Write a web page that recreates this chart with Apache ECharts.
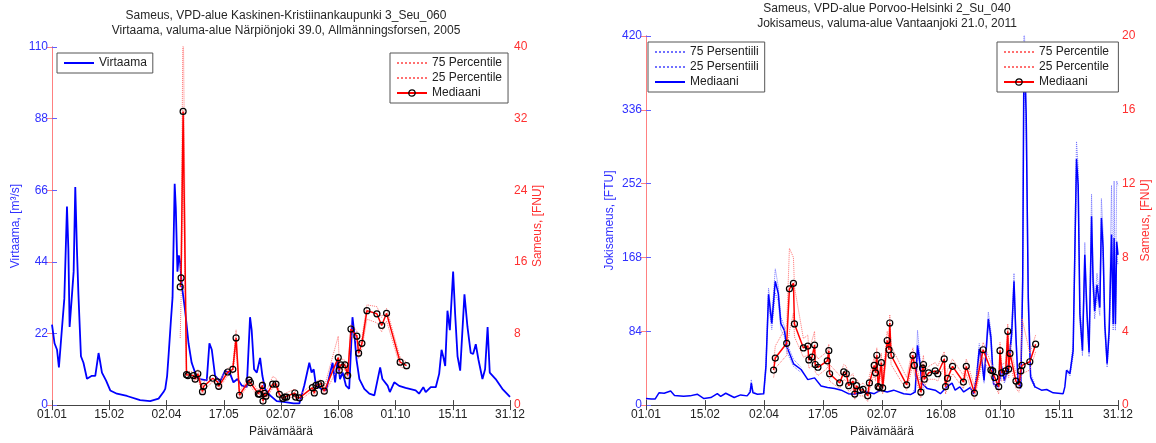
<!DOCTYPE html>
<html>
<head>
<meta charset="utf-8">
<script src="https://cdn.jsdelivr.net/npm/echarts@6/dist/echarts.min.js"></script>
<style>
  html, body { margin: 0; padding: 0; background: #fff; }
  #chart { width: 1156px; height: 443px; }
</style>
</head>
<body>
<div id="chart"></div>
<script>
// x axis: day of year, ticks every 45.5 days
const dateLabels = ['01.01', '15.02', '02.04', '17.05', '02.07', '16.08', '01.10', '15.11', '31.12'];

// left panel: Virtaama [m3/s], day -> value
const flowLeft = [
  [0,24.7],[2,19],[4,17],[5.5,11.6],[8,24],[9.8,32.7],[11,33],[11.9,61],[13,48],[14,24],[15.9,34],[17.2,41],
  [18.5,67],[19.8,48],[21,34],[23,15],[25,13],[27.8,8.1],[31.7,9],[34.4,9],[37,16],[38.4,13],[39.7,10],
  [43,7.5],[46.3,4.5],[51.6,3.5],[59.6,2.8],[70,1.5],[78,1.2],[84.7,2],[88.6,4],[90,5],[91.5,9],[92.6,15],
  [94.5,26],[95.8,33],[97.5,68],[98.4,60.5],[99.7,41],[100.8,46],[101.8,44],[103.1,37],[105.8,29],[108.5,19],
  [111,13],[115,8.6],[117.7,8],[123,7.6],[125.1,19],[127,17],[129.6,9],[133.6,7.3],[137.6,10.6],[141.6,9.6],
  [144.2,7],[147.4,8],[150.8,6],[154.8,5.5],[157.4,27],[158.7,23],[160.6,11],[162.8,10],[165.4,14.5],[167.2,9],
  [169.3,5],[173.3,3],[178.6,1.2],[184,1],[192,0.5],[196.6,0.5],[200.5,6],[204.5,13],[206.3,10],[208,11],
  [209.8,6],[213.8,5],[217.8,4.5],[223,13],[225,7],[227,14],[228.9,8],[231,10],[233.6,6],[236.2,5],[238.8,27],
  [240.3,22],[242,14],[244.3,8],[248.2,5],[252.2,3.5],[256.2,3],[260.8,11.6],[262.6,8],[266.7,6],[268.5,4],
  [272,7],[275.9,5.9],[281,5.3],[289,4.5],[291.7,3.5],[295.1,5.5],[297,4],[301,5.5],[305,5.5],[307.7,9.6],
  [309.6,17],[310.9,15],[312.5,12],[314.3,29],[316.2,23],[318.8,41],[320.4,28],[322.3,15],[324.4,10.6],
  [327.8,34],[330.2,24],[332.8,16],[334.7,15.7],[336.8,18.7],[338.9,14],[342.1,8],[344.2,11],[346.2,24],
  [347.9,10],[352.6,8],[357.9,5],[364,2.5]
];

// left panel: Sameus [FNU]
const medLeft = [
  [101.9,13.2],[102.6,14.2],[104.2,32.8],[106.9,3.4],[108,3.3],[112.4,3.3],[113.8,2.9],[115.9,3.5],[119.6,1.5],
  [120.6,2.1],[127.8,3.0],[131.5,2.6],[132.5,2.1],[139.7,3.7],[143.7,4.0],[146.3,7.5],[149,1.1],[156.6,2.8],
  [157.7,2.5],[164,1.25],[165,1.2],[167.2,2.2],[167.7,0.45],[168.8,1.3],[170,1.0],[175.4,2.35],[178,2.35],
  [180.7,1.2],[183.4,0.75],[185,0.9],[186.5,0.9],[193,1.35],[193.6,0.9],[196.6,0.8],[207,1.95],[208.5,1.35],
  [209.8,2.2],[212,2.3],[213.8,2.4],[216.4,1.55],[227.5,5.3],[228.3,3.9],[229.6,4.5],[232.8,4.5],[235,3.3],
  [237.6,8.5],[242.3,7.7],[243.7,5.8],[246.3,6.9],[250.3,10.55],[258.2,10.2],[262,8.9],[265.9,10.25],
  [276.7,4.8],[281.8,4.4]
];
const p75Left = [
  [101.9,15],[102.6,16],[104.2,45],[106.9,3.8],[108,3.7],[112.4,3.7],[113.8,3.4],[115.9,4.0],[119.6,2.0],
  [120.6,2.6],[127.8,3.4],[131.5,3.0],[132.5,2.6],[139.7,4.1],[143.7,4.5],[146.3,8.4],[149,1.5],[156.6,3.2],
  [157.7,3.0],[164,1.6],[165,1.6],[167.2,2.7],[167.7,0.9],[168.8,1.7],[170,1.4],[175.4,3.2],[178,3.0],
  [180.7,1.6],[183.4,1.1],[185,1.3],[186.5,1.3],[193,1.8],[193.6,1.3],[196.6,1.1],[207,2.4],[208.5,1.8],
  [209.8,2.6],[212,2.8],[213.8,2.8],[216.4,2.0],[227.5,7.7],[228.3,4.6],[229.6,5.2],[232.8,5.0],[235,3.8],
  [237.6,9.0],[242.3,8.3],[243.7,6.4],[246.3,7.5],[250.3,11.2],[258.2,11.0],[262,9.8],[265.9,10.8],
  [276.7,5.3],[281.8,4.8]
];
const p25Left = [
  [101.9,7.5],[102.6,12],[104.2,28],[106.9,3.0],[108,2.9],[112.4,3.0],[113.8,2.5],[115.9,3.1],[119.6,1.2],
  [120.6,1.7],[127.8,2.6],[131.5,2.2],[132.5,1.8],[139.7,3.3],[143.7,3.6],[146.3,6.6],[149,0.8],[156.6,2.4],
  [157.7,2.1],[164,0.9],[165,0.9],[167.2,1.8],[167.7,0.2],[168.8,1.0],[170,0.7],[175.4,1.9],[178,2.0],
  [180.7,0.9],[183.4,0.5],[185,0.6],[186.5,0.6],[193,1.0],[193.6,0.6],[196.6,0.5],[207,1.6],[208.5,1.0],
  [209.8,1.8],[212,1.9],[213.8,2.0],[216.4,1.2],[227.5,4.2],[228.3,3.4],[229.6,4.0],[232.8,4.0],[235,2.9],
  [237.6,7.8],[242.3,7.1],[243.7,5.2],[246.3,6.3],[250.3,9.6],[258.2,9.2],[262,8.2],[265.9,9.4],
  [276.7,4.3],[281.8,4.0]
];

// right panel: Jokisameus [FTU]
const jokiMed = [
  [0,7.5],[4,7],[7,6.8],[10,14],[14,13.5],[19,16],[22,11],[29,10],[34,10.5],[39.5,12.4],[44.7,7.5],[50,8.6],
  [55,13],[57.6,10],[61.5,13.5],[68,8.6],[73,11.6],[78,10.5],[80.4,15],[81.2,25],[82.5,14],[86,12.4],
  [90.7,13],[92.5,44],[94.5,126],[97,93],[99.7,141],[102,127],[104,93],[106.7,85],[108.7,66],[113.8,47],
  [119.6,40.5],[124.8,29],[130,31],[135,21.8],[140,20],[145.5,19],[150.6,17],[156,13],[161,12.4],[165,14],
  [170.5,15],[176,13],[181,17],[186,15],[191,17],[198.7,13],[204,12],[207.6,15],[209.4,68],[211,51],
  [212.8,24.5],[217,18.8],[223,17],[227,13],[232,20.7],[236,25],[238.4,17],[242,20.7],[245,15],[250,20],
  [252.5,13],[255,32],[257,64],[259,51],[260.7,28],[264,98],[266,77],[268,24.5],[271.7,20.7],[274.3,43],
  [276.4,28],[279.4,43],[282,81],[283.8,141],[285.3,77],[287,24.5],[289,20.7],[290.5,141],[291.5,410],
  [293.2,330],[294.8,122],[296.6,32],[300,20.7],[305,17],[309,17.7],[314,14],[321.7,13],[323,20.7],
  [324.3,39.5],[326.9,35.8],[329.4,62],[331,198],[332,280],[333.3,250],[334.6,104],[336.6,62],[338.4,171],
  [340,107],[341.7,60],[343.6,215],[344.8,141],[346,107],[347.8,137],[348.9,135],[350,111],[351.2,213],
  [352.5,179],[353.8,92],[355.6,47],[357.2,85],[359,194],[360.3,92],[361,190],[362,92],[363,186],[364,171]
];
const jokiP75 = [
  [79,12],[80.4,19],[81.2,29],[82.5,16],[85,13],[86,null],
  [91,14],[92.5,50],[94.5,133],[97,100],[99.7,155],[102,135],[104,100],[106.7,90],[108.7,70],[113.8,52],[119.6,43],[120,null],
  [206,16],[207.6,17],[209.4,85],[211,58],[212.8,28],[215,20],[216,null],
  [253,15],[255,38],[257,70],[259,56],[260.7,32],[264,106],[266,84],[268,28],[271.7,23],[274.3,48],[276.4,31],
  [279.4,48],[282,88],[283.8,150],[285.3,84],[287,28],[289,24],[290.5,160],[291.5,440],[293.2,360],[294.8,140],
  [296.6,36],[300,23],[301,null],
  [325,40],[327,38],[329.4,70],[331,215],[332,300],[333.3,270],[334.6,115],[336.6,70],[338.4,185],[340,118],
  [341.7,66],[343.6,240],[344.8,155],[346,118],[347.8,150],[348.9,148],[350,122],[351.2,235],[352.5,195],
  [353.8,100],[355.6,52],[357.2,95],[359,250],[360.3,100],[361,255],[362,100],[363,255],[364,250]
];
const jokiP25 = [
  [91,12],[92.5,38],[94.5,115],[97,86],[99.7,128],[102,118],[104,86],[106.7,78],[108.7,60],[113.8,44],[119.6,37],[120,null],
  [206,13],[207.6,14],[209.4,60],[211,45],[212.8,22],[215,17],[216,null],
  [253,12],[255,28],[257,58],[259,46],[260.7,25],[264,90],[266,70],[268,22],[271.7,18],[274.3,38],[276.4,25],
  [279.4,38],[282,74],[283.8,130],[285.3,70],[287,22],[289,18],[290.5,125],[291.5,390],[293.2,300],[294.8,105],
  [296.6,29],[300,19],[301,null],
  [325,36],[327,33],[329.4,56],[331,180],[332,265],[333.3,240],[334.6,95],[336.6,56],[338.4,160],[340,98],
  [341.7,55],[343.6,195],[344.8,130],[346,98],[347.8,125],[348.9,125],[350,102],[351.2,195],[352.5,165],
  [353.8,85],[355.6,43],[357.2,78],[359,180],[360.3,85],[361,175],[362,85],[363,170],[364,160]
];

// right panel: Sameus [FNU]
const medRight = [
  [98.4,1.9],[99.7,2.55],[108.5,3.35],[110.6,6.3],[113.7,6.6],[114.5,4.4],[121.4,3.1],[124.8,3.2],[125.6,2.45],
  [128,2.6],[130,3.25],[130.5,2.2],[132.6,2.05],[139.8,2.4],[141,2.95],[141.6,1.7],[149.4,1.2],[152.5,1.8],
  [154.5,1.7],[156.3,1.05],[159.7,1.3],[161,0.6],[162.3,1.05],[165.3,0.8],[167.4,0.85],[171,0.5],[172.3,1.2],
  [176,2.15],[177,1.75],[178,2.7],[179,1.0],[180,0.95],[181.5,2.3],[182.5,0.93],[186,3.5],[187.4,3.0],
  [188,4.45],[189,2.7],[201,1.1],[205.8,2.7],[207,2.15],[212,0.7],[213.3,2.0],[214,2.2],[214.6,1.4],[218,1.75],
  [223,1.85],[225,1.7],[230,2.5],[231,1.0],[232.5,1.45],[236.4,2.1],[244.8,1.25],[247,2.1],[253.3,0.65],
  [260,3.0],[266,1.9],[267.4,1.85],[269,1.5],[272,1.0],[273,2.95],[274.3,1.75],[277.4,1.85],[279,4.0],
  [279.7,1.95],[280.7,2.8],[285.3,1.3],[287.6,1.1],[289,1.85],[290,2.15],[296,2.35],[300.5,3.3]
];
const p75Right = [
  [98.4,2.3],[99.7,3.2],[108.5,4.3],[110.6,8.5],[113.7,8.0],[114.5,6.4],[121.4,3.6],[124.8,3.8],[125.6,3.0],
  [128,3.5],[130,4.0],[130.5,2.8],[132.6,2.5],[139.8,2.9],[141,3.3],[141.6,2.2],[149.4,1.6],[152.5,2.2],
  [154.5,2.1],[156.3,1.5],[159.7,1.7],[161,1.0],[162.3,1.4],[165.3,1.1],[167.4,1.2],[171,0.9],[172.3,1.6],
  [176,2.6],[177,2.2],[178,3.1],[179,1.4],[180,1.3],[181.5,2.8],[182.5,1.3],[186,4.0],[187.4,3.6],
  [188,4.9],[189,3.2],[201,1.5],[205.8,3.1],[207,2.6],[212,1.1],[213.3,2.4],[214,2.7],[214.6,1.8],[218,2.1],
  [223,2.3],[225,2.1],[230,2.9],[231,1.4],[232.5,1.9],[236.4,2.5],[244.8,1.6],[247,2.5],[253.3,1.0],
  [260,3.4],[266,2.3],[267.4,2.3],[269,1.9],[272,1.4],[273,3.4],[274.3,2.2],[277.4,2.3],[279,4.4],
  [279.7,2.4],[280.7,3.3],[285.3,1.7],[287.6,1.5],[289,2.4],[290,4.7],[296,2.8],[300.5,3.8]
];
const p25Right = [
  [98.4,1.5],[99.7,2.0],[108.5,2.7],[110.6,4.0],[113.7,5.0],[114.5,3.7],[121.4,2.6],[124.8,2.7],[125.6,2.0],
  [128,2.1],[130,2.7],[130.5,1.8],[132.6,1.6],[139.8,2.0],[141,2.5],[141.6,1.3],[149.4,0.9],[152.5,1.4],
  [154.5,1.3],[156.3,0.7],[159.7,0.9],[161,0.3],[162.3,0.7],[165.3,0.5],[167.4,0.5],[171,0.2],[172.3,0.8],
  [176,1.7],[177,1.3],[178,2.2],[179,0.7],[180,0.6],[181.5,1.8],[182.5,0.6],[186,3.0],[187.4,2.5],
  [188,4.0],[189,2.2],[201,0.8],[205.8,2.2],[207,1.7],[212,0.4],[213.3,1.6],[214,1.8],[214.6,1.0],[218,1.4],
  [223,1.4],[225,1.3],[230,2.1],[231,0.6],[232.5,1.0],[236.4,1.7],[244.8,0.9],[247,1.7],[253.3,0.3],
  [260,2.6],[266,1.5],[267.4,1.4],[269,1.1],[272,0.6],[273,2.5],[274.3,1.3],[277.4,1.4],[279,3.6],
  [279.7,1.5],[280.7,2.3],[285.3,0.9],[287.6,0.7],[289,1.4],[290,1.7],[296,1.9],[300.5,2.9]
];

const FONT = 'Liberation Sans';
const BLUE = '#0000ff';
const RED = '#ff0000';
const BLUE_TXT = '#3030ff';
const RED_TXT = '#ff3030';
const PCT_RED = '#ff7070';
const PCT_BLUE = '#7070ff';

function xAxes(gridIndex) {
  return [
    {
      gridIndex, type: 'value', min: 0, max: 364, interval: 45.5,
      axisLine: { lineStyle: { color: '#444', width: 1 } },
      axisTick: { inside: true, length: 5, lineStyle: { color: '#444' } },
      axisLabel: {
        margin: 4, color: '#222', fontFamily: FONT, fontSize: 12,
        formatter: v => dateLabels[Math.round(v / 45.5)] || ''
      },
      splitLine: { show: false },
      name: 'Päivämäärä', nameLocation: 'middle', nameGap: 20,
      nameTextStyle: { color: '#222', fontFamily: FONT, fontSize: 12 }
    },
    {
      gridIndex, type: 'value', position: 'top', min: 0, max: 364, interval: 45.5,
      axisLine: { lineStyle: { color: '#444', width: 1 } },
      axisTick: { inside: true, length: 5, lineStyle: { color: '#444' } },
      axisLabel: { show: false },
      splitLine: { show: false }
    }
  ];
}

function yAxis(gridIndex, pos, max, interval, name, col, txt, gap) {
  return {
    gridIndex, type: 'value', position: pos, min: 0, max, interval,
    axisLine: { show: true, lineStyle: { color: col, width: 1 } },
    axisTick: { show: true, inside: true, length: 5, lineStyle: { color: col } },
    axisLabel: { margin: 4, color: txt, fontFamily: FONT, fontSize: 12 },
    splitLine: { show: false },
    name, nameLocation: 'middle', nameGap: gap,
    nameTextStyle: { color: txt, fontFamily: FONT, fontSize: 12 }
  };
}

function pctSeries(name, data, xi, yi, color) {
  return {
    name, type: 'line', data, xAxisIndex: xi, yAxisIndex: yi,
    showSymbol: false, symbol: 'none', connectNulls: false,
    lineStyle: { color, width: 1, type: 'dotted' }, itemStyle: { color }
  };
}

function medSeries(name, data, xi, yi) {
  return {
    name, type: 'line', data, xAxisIndex: xi, yAxisIndex: yi,
    symbol: 'circle', symbolSize: 6, showSymbol: true,
    lineStyle: { color: RED, width: 1.5 },
    itemStyle: { color: 'rgba(255,255,255,0)', borderColor: '#000', borderWidth: 1.2 }
  };
}

// legend entries: plain line samples hide the symbol, median keeps its small ring
const lineOnly = name => ({ name, itemStyle: { opacity: 0 } });
const withRing = name => ({ name, itemStyle: { color: 'rgba(255,255,255,0)', borderColor: '#000', borderWidth: 1.2 } });

const legendBase = {
  orient: 'vertical', backgroundColor: '#fff', borderColor: '#555', borderWidth: 1,
  padding: [4, 6, 4, 6], itemWidth: 30, itemHeight: 8, itemGap: 3,
  textStyle: { fontFamily: FONT, fontSize: 12, color: '#222' }
};

const chart = echarts.init(document.getElementById('chart'));
chart.setOption({
  animation: false,
  backgroundColor: '#fff',
  title: [
    {
      text: 'Sameus, VPD-alue Kaskinen-Kristiinankaupunki 3_Seu_060\nVirtaama, valuma-alue Närpiönjoki 39.0, Allmänningsforsen, 2005',
      left: 281, top: 3, textAlign: 'center',
      textStyle: { fontFamily: FONT, fontSize: 12, fontWeight: 'normal', color: '#262626', lineHeight: 15 }
    },
    {
      text: 'Sameus, VPD-alue Porvoo-Helsinki 2_Su_040\nJokisameus, valuma-alue Vantaanjoki 21.0, 2011',
      left: 882, top: -4, textAlign: 'center',
      textStyle: { fontFamily: FONT, fontSize: 12, fontWeight: 'normal', color: '#262626', lineHeight: 15 }
    }
  ],
  grid: [
    { left: 52, right: 646, top: 47, bottom: 33 },
    { left: 646, right: 38, top: 36, bottom: 34 }
  ],
  xAxis: [...xAxes(0), ...xAxes(1)],
  yAxis: [
    yAxis(0, 'left', 110, 22, 'Virtaama, [m³/s]', '#6060ff', BLUE_TXT, 30),
    yAxis(0, 'right', 40, 8, 'Sameus, [FNU]', '#ff8080', RED_TXT, 20),
    yAxis(1, 'left', 420, 84, 'Jokisameus, [FTU]', '#6060ff', BLUE_TXT, 30),
    yAxis(1, 'right', 20, 4, 'Sameus, [FNU]', '#ff8080', RED_TXT, 20)
  ],
  legend: [
    Object.assign({}, legendBase, { left: 57, top: 53, data: [lineOnly('Virtaama')] }),
    Object.assign({}, legendBase, { left: 390, top: 53,
      data: [lineOnly('75 Percentile'), lineOnly('25 Percentile'), withRing('Mediaani')] }),
    Object.assign({}, legendBase, { left: 648, top: 42,
      data: [lineOnly('75 Persentiili'), lineOnly('25 Persentiili'), lineOnly('Mediaani ')] }),
    Object.assign({}, legendBase, { left: 997, top: 42,
      data: [lineOnly('75 Percentile '), lineOnly('25 Percentile '), withRing('Mediaani  ')] })
  ],
  series: [
    {
      name: 'Virtaama', type: 'line', data: flowLeft, xAxisIndex: 0, yAxisIndex: 0,
      showSymbol: false, symbol: 'none', lineStyle: { color: BLUE, width: 1.8 }, itemStyle: { color: BLUE }
    },
    pctSeries('75 Percentile', p75Left, 0, 1, PCT_RED),
    pctSeries('25 Percentile', p25Left, 0, 1, PCT_RED),
    medSeries('Mediaani', medLeft, 0, 1),

    pctSeries('75 Persentiili', jokiP75, 2, 2, PCT_BLUE),
    pctSeries('25 Persentiili', jokiP25, 2, 2, PCT_BLUE),
    {
      name: 'Mediaani ', type: 'line', data: jokiMed, xAxisIndex: 2, yAxisIndex: 2,
      showSymbol: false, symbol: 'none', lineStyle: { color: BLUE, width: 1.5 }, itemStyle: { color: BLUE }
    },
    pctSeries('75 Percentile ', p75Right, 2, 3, PCT_RED),
    pctSeries('25 Percentile ', p25Right, 2, 3, PCT_RED),
    medSeries('Mediaani  ', medRight, 2, 3)
  ]
});
</script>
</body>
</html>
